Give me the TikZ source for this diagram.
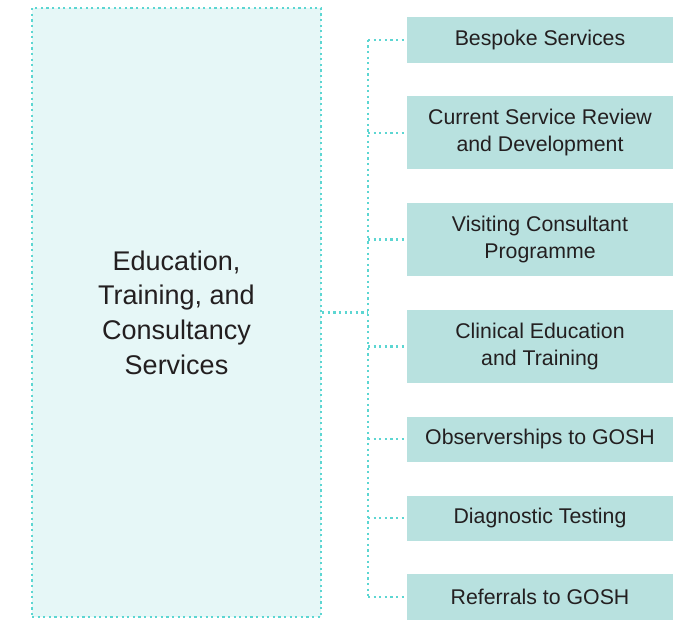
\documentclass[tikz,border=0pt]{standalone}
\usepackage{fontspec}
\setmainfont{Liberation Sans}
\usetikzlibrary{positioning}
\definecolor{bigfill}{HTML}{E6F7F7}
\definecolor{boxfill}{HTML}{B8E1DF}
\definecolor{dotline}{HTML}{5CD6D2}
\definecolor{txt}{HTML}{231F20}

\begin{document}
\begin{tikzpicture}[
          x=1pt,y=-1pt,
          node distance=33pt,
          link/.style={draw=dotline,line width=2.2pt,dash pattern=on 2.2pt off 3.4pt},
          main/.style={link,fill=bigfill,text=txt,align=center,minimum width=289pt,minimum height=609pt,
            font=\fontsize{27}{34.7}\selectfont},
          svc/.style={fill=boxfill,text=txt,align=center,minimum width=266pt,minimum height=45.5pt,inner sep=0pt,
            font=\fontsize{21.3}{27}\selectfont},
          svctwo/.style={svc,minimum height=73.5pt}
            ]
            \useasboundingbox (0,0) rectangle (680,619);
            \node[main] (ets) at (176.5,312.5) {Education,\\Training, and\\Consultancy\\Services};
            \node[svc] (bs) at (540,39.75) {Bespoke Services};
            \node[svctwo,below=of bs] (csr) {Current Service Review\\and Development};
            \node[svctwo,below=of csr] (vcp) {Visiting Consultant\\Programme};
            \node[svctwo,below=of vcp] (cet) {Clinical Education\\and Training};
            \node[svc,below=of cet] (obs) {Observerships to GOSH};
            \node[svc,below=of obs] (dt) {Diagnostic Testing};
            \node[svc,below=of dt] (ref) {Referrals to GOSH};
            \coordinate (trunk) at (368,312.5);
            \draw[link] (ets.east) -- (trunk);
            \draw[link] (trunk |- bs.west) -- (trunk |- ref.west);
            \draw[link] (trunk |- bs.west) -- (bs.west);
            \draw[link] (trunk |- csr.west) -- (csr.west);
            \draw[link] (trunk |- vcp.west) -- (vcp.west);
            \draw[link] (trunk |- cet.west) -- (cet.west);
            \draw[link] (trunk |- obs.west) -- (obs.west);
            \draw[link] (trunk |- dt.west) -- (dt.west);
            \draw[link] (trunk |- ref.west) -- (ref.west);
            \end{tikzpicture}
\end{document}
